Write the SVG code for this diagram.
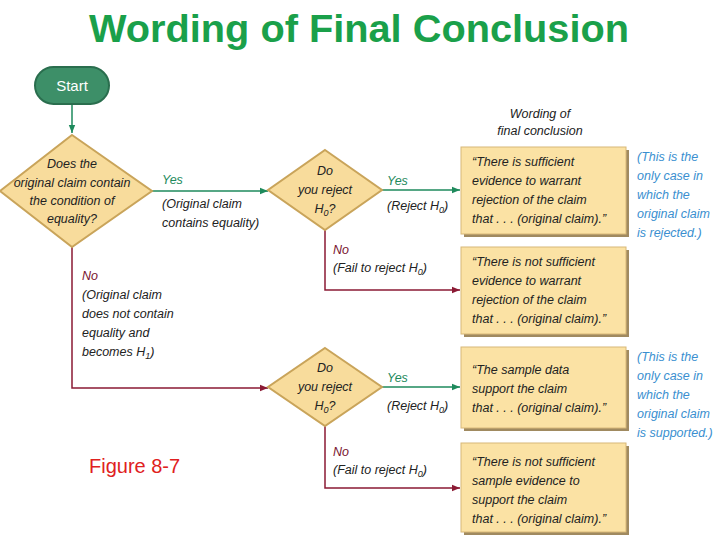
<svg xmlns="http://www.w3.org/2000/svg" width="720" height="540" viewBox="0 0 720 540">
<defs>
<style>
text{font-family:"Liberation Sans",Arial,sans-serif}
.t{font-size:12.5px;font-style:italic;fill:#222}
.g{font-size:12.5px;font-style:italic;fill:#1e8a5c}
.r{font-size:12.5px;font-style:italic;fill:#7a1530}
.b{font-size:12.5px;font-style:italic;fill:#3a8fd0}
.dia{fill:#f8dc9c;stroke:#c9a45a;stroke-width:2}
.box{fill:#fbe2a4;stroke:#d8b878;stroke-width:1}
.sh{fill:#a08a60}
.gl{stroke:#1e8a5c;stroke-width:1.5;fill:none}
.rl{stroke:#8b1a34;stroke-width:1.5;fill:none}
</style>
<marker id="ag" viewBox="0 0 10 10" refX="10" refY="5" markerWidth="8" markerHeight="8" orient="auto" markerUnits="userSpaceOnUse"><path d="M0,1 L10,5 L0,9 Z" fill="#1e8a5c"/></marker>
<marker id="ar" viewBox="0 0 10 10" refX="10" refY="5" markerWidth="8" markerHeight="8" orient="auto" markerUnits="userSpaceOnUse"><path d="M0,1 L10,5 L0,9 Z" fill="#8b1a34"/></marker>
</defs>
<rect width="720" height="540" fill="#fff"/>
<text x="359" y="42" text-anchor="middle" font-size="39" font-weight="bold" fill="#1aa04a" textLength="540" lengthAdjust="spacingAndGlyphs">Wording of Final Conclusion</text>
<text x="540" y="118" text-anchor="middle" class="t">Wording of</text>
<text x="540" y="135" text-anchor="middle" class="t">final conclusion</text>
<text x="89" y="473" font-size="20" fill="#e02020">Figure 8-7</text>

<g id="connectors">
<path class="gl" d="M72,104 V133" marker-end="url(#ag)"/>
<path class="gl" d="M152,191 H268" marker-end="url(#ag)"/>
<path class="gl" d="M382,190 H460" marker-end="url(#ag)"/>
<path class="rl" d="M325,230 V290 H460" marker-end="url(#ar)"/>
<path class="rl" d="M72,247 V388 H268" marker-end="url(#ar)"/>
<path class="gl" d="M382,387 H460" marker-end="url(#ag)"/>
<path class="rl" d="M325,425 V488 H460" marker-end="url(#ar)"/>
<text x="162" y="184" class="g">Yes</text>
<text x="162" y="208" class="t">(Original claim</text>
<text x="162" y="227" class="t">contains equality)</text>
<text x="387" y="185" class="g">Yes</text>
<text x="387" y="210" class="t">(Reject H<tspan font-size="9" dy="3">0</tspan><tspan dy="-3">)</tspan></text>
<text x="333" y="254" class="r">No</text>
<text x="333" y="272" class="t">(Fail to reject H<tspan font-size="9" dy="3">0</tspan><tspan dy="-3">)</tspan></text>
<text x="82" y="280" class="r">No</text>
<text x="82" y="299" class="t">(Original claim</text>
<text x="82" y="318" class="t">does not contain</text>
<text x="82" y="337" class="t">equality and</text>
<text x="82" y="356" class="t">becomes H<tspan font-size="9" dy="3">1</tspan><tspan dy="-3">)</tspan></text>
<text x="387" y="382" class="g">Yes</text>
<text x="387" y="410" class="t">(Reject H<tspan font-size="9" dy="3">0</tspan><tspan dy="-3">)</tspan></text>
<text x="333" y="456" class="r">No</text>
<text x="333" y="474" class="t">(Fail to reject H<tspan font-size="9" dy="3">0</tspan><tspan dy="-3">)</tspan></text>
</g>

<g id="start">
<rect x="35" y="67" width="74" height="37" rx="18.5" fill="#3d8f68" stroke="#2a6e4e" stroke-width="2"/>
<text x="72" y="91" text-anchor="middle" font-size="15" fill="#fff">Start</text>
</g>
<g id="d1">
<polygon class="dia" points="72,135 152,191 72,247 0,191"/>
<text x="72" y="168" text-anchor="middle" class="t">Does the</text>
<text x="72" y="187" text-anchor="middle" class="t">original claim contain</text>
<text x="72" y="205" text-anchor="middle" class="t">the condition of</text>
<text x="72" y="223" text-anchor="middle" class="t">equality?</text>
</g>
<g id="d2">
<polygon class="dia" points="325,150 382,190 325,230 268,190"/>
<text x="325" y="175" text-anchor="middle" class="t">Do</text>
<text x="325" y="194" text-anchor="middle" class="t">you reject</text>
<text x="325" y="213" text-anchor="middle" class="t">H<tspan font-size="9" dy="3">0</tspan><tspan dy="-3">?</tspan></text>
</g>
<g id="d3">
<polygon class="dia" points="325,348 382,387 325,426 268,387"/>
<text x="325" y="372" text-anchor="middle" class="t">Do</text>
<text x="325" y="391" text-anchor="middle" class="t">you reject</text>
<text x="325" y="410" text-anchor="middle" class="t">H<tspan font-size="9" dy="3">0</tspan><tspan dy="-3">?</tspan></text>
</g>
<g id="b1">
<rect class="sh" x="464" y="150" width="165" height="87"/>
<rect class="box" x="461" y="147" width="165" height="87"/>
<text x="472" y="166" class="t">“There is sufficient</text>
<text x="472" y="185" class="t">evidence to warrant</text>
<text x="472" y="204" class="t">rejection of the claim</text>
<text x="472" y="223" class="t">that . . . (original claim).”</text>
</g>
<g id="b2">
<rect class="sh" x="464" y="250" width="165" height="87"/>
<rect class="box" x="461" y="247" width="165" height="87"/>
<text x="472" y="266" class="t">“There is not sufficient</text>
<text x="472" y="285" class="t">evidence to warrant</text>
<text x="472" y="304" class="t">rejection of the claim</text>
<text x="472" y="323" class="t">that . . . (original claim).”</text>
</g>
<g id="b3">
<rect class="sh" x="464" y="350" width="165" height="81"/>
<rect class="box" x="461" y="347" width="165" height="81"/>
<text x="472" y="374" class="t">“The sample data</text>
<text x="472" y="393" class="t">support the claim</text>
<text x="472" y="412" class="t">that . . . (original claim).”</text>
</g>
<g id="b4">
<rect class="sh" x="464" y="446" width="165" height="89"/>
<rect class="box" x="461" y="443" width="165" height="89"/>
<text x="472" y="466" class="t">“There is not sufficient</text>
<text x="472" y="485" class="t">sample evidence to</text>
<text x="472" y="504" class="t">support the claim</text>
<text x="472" y="523" class="t">that . . . (original claim).”</text>
</g>
<g id="n1">
<text x="637" y="161" class="b">(This is the</text>
<text x="637" y="180" class="b">only case in</text>
<text x="637" y="199" class="b">which the</text>
<text x="637" y="218" class="b">original claim</text>
<text x="637" y="237" class="b">is rejected.)</text>
</g>
<g id="n2">
<text x="637" y="361" class="b">(This is the</text>
<text x="637" y="380" class="b">only case in</text>
<text x="637" y="399" class="b">which the</text>
<text x="637" y="418" class="b">original claim</text>
<text x="637" y="437" class="b">is supported.)</text>
</g>
</svg>
